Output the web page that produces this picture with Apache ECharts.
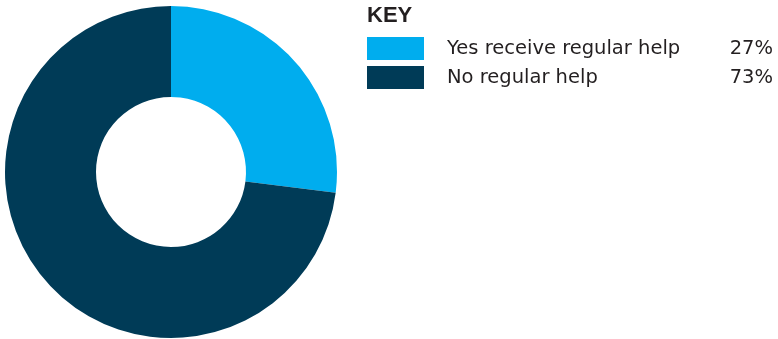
<!DOCTYPE html>
<html>
<head>
<meta charset="utf-8">
<script src="https://cdn.jsdelivr.net/npm/echarts@6/dist/echarts.min.js"></script>
<style>
  html, body { margin: 0; padding: 0; background: #fff; }
  #chart { width: 778px; height: 339px; }
</style>
</head>
<body>
<div id="chart"></div>
<script>
// Share of people receiving regular help
const categories = ['Yes receive regular help', 'No regular help'];
const shares = [27, 73];
const colors = ['#00adee', '#003b57'];

const chart = echarts.init(document.getElementById('chart'), null, { renderer: 'canvas' });

const pieData = categories.map((name, i) => ({
  name: name,
  value: shares[i],
  itemStyle: { color: colors[i] }
}));

const textColor = '#231f20';
const fontFamily = '"DejaVu Sans", "Liberation Sans", Arial, sans-serif';

chart.setOption({
  animation: false,
  title: {
    text: 'KEY',
    left: 367,
    top: 5,
    padding: 0,
    textStyle: {
      fontFamily: '"Liberation Sans", Arial, sans-serif',
      fontWeight: 'bold',
      fontSize: 22,
      color: textColor
    }
  },
  legend: {
    orient: 'vertical',
    left: 367,
    top: 37,
    padding: 0,
    itemWidth: 57,
    itemHeight: 23,
    itemGap: 6,
    icon: 'rect',
    selectedMode: false,
    data: categories,
    formatter: function (name) {
      const i = categories.indexOf(name);
      return '{n|' + name + '}{p|' + shares[i] + '%}';
    },
    textStyle: {
      fontFamily: fontFamily,
      fontSize: 19.5,
      color: textColor,
      rich: {
        n: {
          fontFamily: fontFamily,
          fontSize: 19.5,
          color: textColor,
          width: 270,
          padding: [0, 0, 0, 18]
        },
        p: {
          fontFamily: fontFamily,
          fontSize: 19.5,
          color: textColor,
          width: 56,
          align: 'right'
        }
      }
    }
  },
  series: [{
    type: 'pie',
    center: [171, 172],
    radius: [75, 166],
    startAngle: 90,
    clockwise: true,
    label: { show: false },
    labelLine: { show: false },
    emphasis: { disabled: true },
    itemStyle: { borderWidth: 0 },
    data: pieData
  }]
});
</script>
</body>
</html>
